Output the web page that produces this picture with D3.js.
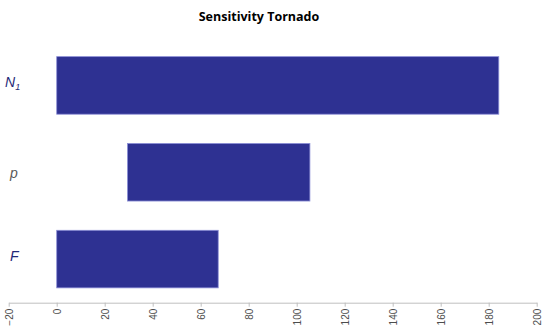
<!DOCTYPE html>
<html>
<head>
<meta charset="utf-8">
<script src="https://cdn.jsdelivr.net/npm/d3@7"></script>
<style>
body { margin: 0; background: #fff; }
</style>
</head>
<body>
<div id="chart"></div>
<script>
var params = ["N", "p", "F"];
var lows = [0, 29.5, 0];
var highs = [184.2, 105.5, 67.3];
var ticks = [-20, 0, 20, 40, 60, 80, 100, 120, 140, 160, 180, 200];

var width = 550, height = 336;

var svg = d3.select('#chart')
	.append('svg')
	.attr('width', width)
	.attr('height', height);

var x = d3.scaleLinear()
	.domain([-20, 200])
	.range([8.7, 536.7]);

var y = d3.scaleBand()
	.domain(params)
	.range([42, 302.5])
	.paddingInner(0.337)
	.paddingOuter(0.1685);

svg.append('text')
	.attr('x', 259)
	.attr('y', 21)
	.attr('text-anchor', 'middle')
	.style('font-family', 'Open Sans, sans-serif')
	.style('font-weight', 'bold')
	.style('font-size', '12.5px')
	.text('Sensitivity Tornado');

svg.selectAll('.bar')
	.data(params)
	.enter().append('rect')
	.attr('class', 'bar')
	.attr('x', (d, i) => x(lows[i]))
	.attr('y', d => y(d))
	.attr('width', (d, i) => x(highs[i]) - x(lows[i]))
	.attr('height', y.bandwidth())
	.style('fill', '#2e3192')
	.style('stroke', '#8b8ed6')
	.style('stroke-width', 0.8);

// category labels, italic like the original
var labels = svg.selectAll('.lab')
	.data(params)
	.enter().append('text')
	.attr('class', 'lab')
	.attr('x', d => d === 'N' ? 5 : 10)
	.attr('y', d => y(d) + y.bandwidth() / 2 + (d === 'p' ? 6 : 2))
	.style('font-family', 'Liberation Sans, Arial, sans-serif')
	.style('font-style', 'italic')
	.style('font-size', '14px')
	.style('fill', d => d === 'p' ? '#595959' : '#1f2a78')
	.text(d => d);

labels.filter(d => d === 'N')
	.append('tspan')
	.attr('dy', 3)
	.style('font-size', '9px')
	.text('1');

var axis = svg.append('g')
	.attr('transform', 'translate(0,302.7)')
	.call(d3.axisBottom(x).tickValues(ticks).tickSize(4).tickSizeOuter(0).tickFormat(d3.format('d')));

axis.select('.domain').style('stroke', '#bfbfbf');
axis.selectAll('.tick line').style('stroke', '#bfbfbf');
axis.selectAll('.tick text')
	.attr('transform', 'rotate(-90)')
	.attr('x', -6)
	.attr('y', 0)
	.attr('dy', '0.35em')
	.style('text-anchor', 'end')
	.style('font-family', 'Liberation Sans, Arial, sans-serif')
	.style('font-size', '10px')
	.style('fill', '#4d4d4d');
</script>
</body>
</html>
